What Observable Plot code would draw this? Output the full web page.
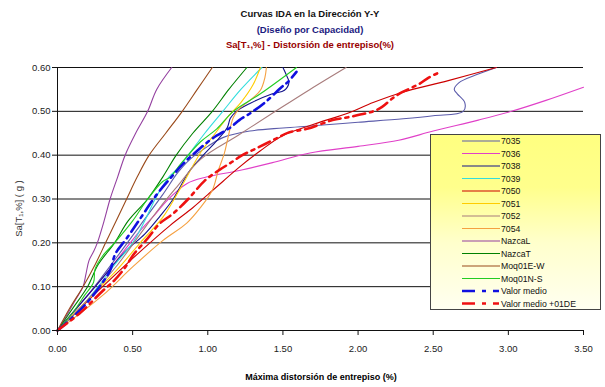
<!DOCTYPE html>
<html><head><meta charset="utf-8">
<script src="https://cdn.jsdelivr.net/npm/d3@7"></script>
<script src="https://cdn.jsdelivr.net/npm/@observablehq/plot@0.6"></script>
<style>
body{margin:0;background:#fff;font-family:"Liberation Sans",Arial,sans-serif;}
#wrap{position:relative;width:605px;height:387px;overflow:hidden;background:#fff}
.t{position:absolute;left:0;width:620px;text-align:center;font-weight:bold;font-size:9.5px;line-height:12px;white-space:nowrap}
#xl{position:absolute;left:0;width:642px;top:372px;text-align:center;font-weight:bold;font-size:9px;white-space:nowrap}
#yl{position:absolute;left:-32px;top:203px;width:100px;text-align:center;font-size:9.5px;color:#333;transform:rotate(-90deg);white-space:nowrap}
#leg{position:absolute;left:430px;top:134px;width:169px;height:174px;border:1px solid #444;
 background:linear-gradient(to bottom,#ffff80 0%,#ffff8c 30%,#ffffcc 62%,#fffff0 100%)}
#leg svg{overflow:visible}
#chart{position:absolute;left:0;top:0}
</style></head>
<body><div id="wrap">
<div id="chart"></div>
<div class="t" style="top:8px;color:#111">Curvas IDA en la Dirección Y-Y</div>
<div class="t" style="top:24px;color:#1a1a80">(Diseño por Capacidad)</div>
<div class="t" style="top:39px;color:#990000">Sa[T₁,%] - Distorsión de entrepiso(%)</div>
<div id="yl">Sa[T₁,%] ( g )</div>
<div id="xl">Máxima distorsión de entrepiso (%)</div>
<div id="leg"></div>
</div>
<script>
// ---- data ----
const seriesNames = ["7035","7036","7038","7039","7050","7051","7052","7054","NazcaL","NazcaT","Moq01E-W","Moq01N-S","Valor medio","Valor medio +01DE"];
const seriesColors = ["#5c5cab","#e040c8","#14148a","#33dddd","#cc0000","#ffcc00","#a87c7c","#f5a040","#9440a0","#008000","#9a4a1a","#22cc22","#1010e0","#ee1111"];
const xTicks = [0,0.5,1,1.5,2,2.5,3,3.5];
const yTicks = [0,0.1,0.2,0.3,0.4,0.5,0.6];

const s7035 = [[0,0],[0.2,0.08],[0.4,0.17],[0.55,0.24],[0.7,0.31],[0.8,0.36],[0.88,0.39],[1.0,0.42],[1.1,0.44],[1.28,0.455],[1.5,0.462],[1.7,0.467],[2.0,0.475],[2.3,0.483],[2.5,0.49],[2.70,0.50],[2.71,0.52],[2.66,0.54],[2.64,0.55],[2.67,0.565],[2.8,0.585],[2.92,0.60]];
const s7036 = [[0,0],[0.15,0.06],[0.3,0.12],[0.45,0.185],[0.55,0.228],[0.65,0.265],[0.73,0.297],[0.86,0.335],[0.99,0.35],[1.21,0.365],[1.43,0.383],[1.68,0.405],[2.0,0.42],[2.27,0.434],[2.5,0.455],[2.8,0.48],[3.02,0.50],[3.25,0.525],[3.5,0.555]];
const s7038 = [[0,0],[0.15,0.06],[0.3,0.12],[0.45,0.18],[0.58,0.22],[0.68,0.26],[0.77,0.30],[0.88,0.365],[0.97,0.40],[1.06,0.433],[1.13,0.463],[1.15,0.484],[1.19,0.50],[1.28,0.518],[1.43,0.54],[1.51,0.548],[1.54,0.566],[1.52,0.585],[1.50,0.60]];
const s7039 = [[0,0],[0.15,0.05],[0.27,0.1],[0.38,0.15],[0.50,0.2],[0.58,0.25],[0.65,0.30],[0.70,0.33],[0.74,0.35],[0.80,0.37],[0.87,0.40],[0.98,0.45],[1.10,0.50],[1.22,0.55],[1.36,0.60]];
const s7050 = [[0,0],[0.3,0.1],[0.55,0.18],[0.75,0.24],[0.9,0.28],[1.0,0.31],[1.1,0.34],[1.2,0.37],[1.35,0.41],[1.5,0.445],[1.7,0.47],[1.94,0.497],[2.1,0.52],[2.29,0.543],[2.6,0.57],[2.92,0.60]];
const s7051 = [[0,0],[0.2,0.07],[0.4,0.14],[0.55,0.2],[0.70,0.258],[0.82,0.326],[0.96,0.41],[1.05,0.45],[1.14,0.49],[1.22,0.52],[1.30,0.56],[1.35,0.60]];
const s7052 = [[0,0],[0.2,0.07],[0.4,0.15],[0.55,0.22],[0.68,0.28],[0.8,0.33],[0.95,0.39],[1.2,0.445],[1.45,0.50],[1.68,0.55],[1.92,0.60]];
const s7054 = [[0,0],[0.3,0.08],[0.5,0.145],[0.7,0.205],[0.86,0.245],[0.95,0.28],[1.03,0.32],[1.07,0.365],[1.11,0.404],[1.13,0.433],[1.15,0.463],[1.17,0.486],[1.21,0.506],[1.28,0.525],[1.35,0.548],[1.38,0.577],[1.39,0.60]];
const sNazcaL = [[0,0],[0.07,0.04],[0.12,0.07],[0.17,0.1],[0.19,0.13],[0.21,0.16],[0.24,0.18],[0.265,0.2],[0.31,0.25],[0.35,0.3],[0.40,0.35],[0.45,0.40],[0.52,0.45],[0.60,0.50],[0.66,0.55],[0.76,0.60]];
const sNazcaT = [[0,0],[0.1,0.05],[0.2,0.1],[0.27,0.15],[0.38,0.2],[0.47,0.25],[0.60,0.30],[0.70,0.35],[0.79,0.40],[0.90,0.45],[1.03,0.50],[1.14,0.55],[1.26,0.60]];
const sMoqEW = [[0,0],[0.08,0.05],[0.17,0.1],[0.25,0.15],[0.32,0.2],[0.39,0.25],[0.46,0.3],[0.53,0.35],[0.61,0.4],[0.72,0.45],[0.83,0.5],[0.93,0.55],[1.03,0.6]];
const sMoqNS = [[0,0],[0.1,0.04],[0.18,0.08],[0.24,0.11],[0.25,0.14],[0.30,0.17],[0.38,0.20],[0.50,0.25],[0.60,0.30],[0.70,0.34],[0.75,0.35],[0.82,0.38],[0.95,0.43],[1.06,0.46],[1.17,0.50],[1.35,0.54],[1.59,0.60]];
const sMedio = [[0,0],[0.1,0.03],[0.2,0.065],[0.28,0.10],[0.35,0.137],[0.385,0.175],[0.46,0.21],[0.54,0.25],[0.66,0.31],[0.75,0.347],[0.835,0.38],[0.93,0.41],[1.03,0.438],[1.15,0.463],[1.21,0.48],[1.28,0.495],[1.38,0.52],[1.49,0.555],[1.53,0.566],[1.59,0.59]];
const sMedioDE = [[0,0],[0.15,0.04],[0.3,0.09],[0.38,0.115],[0.45,0.144],[0.51,0.175],[0.60,0.21],[0.68,0.244],[0.77,0.267],[0.87,0.30],[0.98,0.342],[1.08,0.367],[1.15,0.382],[1.23,0.40],[1.32,0.415],[1.45,0.437],[1.54,0.452],[1.66,0.46],[1.83,0.48],[1.94,0.487],[2.1,0.50],[2.16,0.51],[2.23,0.53],[2.29,0.543],[2.41,0.563],[2.47,0.577],[2.55,0.59]];
const seriesPoints = [s7035,s7036,s7038,s7039,s7050,s7051,s7052,s7054,sNazcaL,sNazcaT,sMoqEW,sMoqNS,sMedio,sMedioDE];

// ---- build ----
const rows = [];
seriesPoints.forEach((pts,i)=>pts.forEach(([x,y])=>rows.push({series:seriesNames[i],x,y,mean:i>=12})));
const f2 = d=>d.toFixed(2);
const font = '"Liberation Sans",Arial,sans-serif';

const chart = Plot.plot({
  width:605,height:387,marginLeft:57,marginRight:22,marginTop:67,marginBottom:57,
  style:{fontFamily:font,fontSize:"9.5px",color:"#222",background:"transparent"},
  x:{domain:[0,3.5]},
  y:{domain:[0,0.6]},
  color:{domain:seriesNames,range:seriesColors},
  marks:[
    Plot.gridY(yTicks.slice(1),{stroke:"#111",strokeOpacity:1,strokeWidth:1}),
    Plot.line(rows.filter(d=>!d.mean),{x:"x",y:"y",z:"series",stroke:"series",strokeWidth:1.1,curve:"catmull-rom"}),
    Plot.line(rows.filter(d=>d.mean),{x:"x",y:"y",z:"series",stroke:"series",strokeWidth:2.6,strokeDasharray:"12,5,3,5",curve:"catmull-rom"}),
    Plot.ruleX([0],{stroke:"#111"}),
    Plot.ruleY([0],{stroke:"#111"}),
    Plot.axisX({ticks:xTicks,tickFormat:f2,tickSize:5,tickPadding:10,label:null,stroke:"#111"}),
    Plot.axisY({ticks:yTicks,tickFormat:f2,tickSize:5,tickPadding:2,label:null,stroke:"#111"})
  ]
});
document.getElementById("chart").appendChild(chart);

// ---- legend ----
const leg = d3.select("#leg").append("svg").attr("width",169).attr("height",174);
seriesNames.forEach((n,i)=>{
  const y = 6 + i*12.5;
  const g = leg.append("g");
  if(i>=12){
    g.append("line").attr("x1",31).attr("x2",68).attr("y1",y).attr("y2",y)
     .attr("stroke",seriesColors[i]).attr("stroke-width",2.6).attr("stroke-dasharray","13,7,4,7,6");
  } else {
    g.append("line").attr("x1",31).attr("x2",69).attr("y1",y).attr("y2",y)
     .attr("stroke",seriesColors[i]).attr("stroke-width",1.1);
  }
  g.append("text").attr("x",70).attr("y",y).attr("dy","0.35em")
   .attr("font-size","8.7px").attr("font-family",font).attr("fill","#111").text(n);
});
</script>
</body></html>
